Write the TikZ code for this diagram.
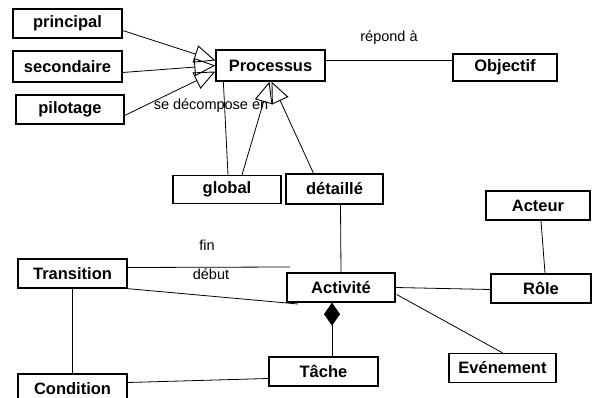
\documentclass[tikz,border=0pt]{standalone}
\usepackage{fontspec}
\setmainfont{Liberation Sans}
\usetikzlibrary{arrows.meta,calc}
\begin{document}
\begin{tikzpicture}[x=1pt,y=-1pt,
  cls/.style={draw,line width=1.3pt,inner sep=0pt,minimum height=29pt,
    font=\fontsize{16.5}{18}\selectfont\bfseries},
  lbl/.style={inner sep=0pt,font=\fontsize{14.5}{16}\selectfont},
  conn/.style={line width=0.8pt},
  gen/.style={conn,-{Triangle[open,length=21pt,width=18pt,line width=0.9pt]}},
  comp/.style={conn,-{Diamond[length=23pt,width=16pt]}}]
\useasboundingbox (0,0) rectangle (592,398);
% classes
\node[cls,minimum width=109pt] (principal) at (67.5,23.5) {principal};
\node[cls,minimum width=109pt,minimum height=31pt] (secondaire) at (67.5,66.5) {secondaire};
\node[cls,minimum width=108pt] (pilotage) at (70,109.5) {pilotage};
\node[cls,minimum width=109pt,minimum height=31pt] (proc) at (270.5,65.5) {Processus};
\node[cls,minimum width=104pt,minimum height=27pt] (obj) at (505,67.5) {Objectif};
\node[cls,minimum width=108pt,minimum height=28pt] (global) at (227,189.5) {global};
\node[cls,minimum width=97pt,minimum height=30pt] (detail) at (334.5,189) {détaillé};
\node[cls,minimum width=104pt] (acteur) at (538,205.5) {Acteur};
\node[cls,minimum width=108pt] (activite) at (341,287.5) {Activité};
\node[cls,minimum width=100pt] (role) at (541,288.5) {Rôle};
\node[cls,minimum width=109pt] (transition) at (72.5,273.5) {Transition};
\node[cls,minimum width=109pt] (tache) at (323.5,371.5) {Tâche};
\node[cls,minimum width=109pt] (condition) at (72.5,388.5) {Condition};
\node[cls,minimum width=107pt] (evenement) at (502.5,368) {Evénement};
% labels
\node[lbl] (repond) at (389,38) {répond à};
\node[lbl] (decomp) at (211,106) {se décompose en};
\node[lbl] (fin) at (207,245) {fin};
\node[lbl] (debut) at (211,274) {début};
% free ends
\coordinate (finend) at (290,267);
\coordinate (debend) at (298,304);
% generalisations
\draw[gen] ($(principal.east)+(0,7)$) -- ($(proc.west)+(0,-5)$);
\draw[gen] ($(secondaire.east)+(0,6)$) -- ($(proc.west)+(0,0)$);
\draw[gen] ($(pilotage.east)+(0,6)$) -- ($(proc.west)+(0,6)$);
\draw[gen] ($(global.north)+(15,0)$) -- ($(proc.south)+(-1,0)$);
\draw[gen] ($(detail.north)+(-21,0)$) -- ($(proc.south)+(1,0)$);
% associations
\draw[conn] ($(proc.south west)+(8,0)$) -- ($(global.north)+(1,0)$);
\draw[conn] ($(proc.east)+(0,-5)$) -- ($(obj.west)+(0,-7)$);
\draw[conn] ($(detail.south)+(6,0)$) -- (activite.north);
\draw[conn] ($(acteur.south)+(3,0)$) -- ($(role.north)+(4,0)$);
\draw[conn] (activite.east) -- ($(role.west)+(0,1)$);
\draw[conn] ($(activite.east)+(1,7)$) -- (evenement.north);
\draw[conn] ($(transition.east)+(0,-6)$) -- (finend);
\draw[conn] (transition.south east) -- (debend);
\draw[comp] ($(tache.north)+(8.5,0)$) -- ($(activite.south)+(-9,0)$);
\draw[conn] (transition.south) -- (condition.north);
\draw[conn] ($(condition.east)+(0,-6)$) -- ($(tache.west)+(0,7)$);
\end{tikzpicture}
\end{document}
